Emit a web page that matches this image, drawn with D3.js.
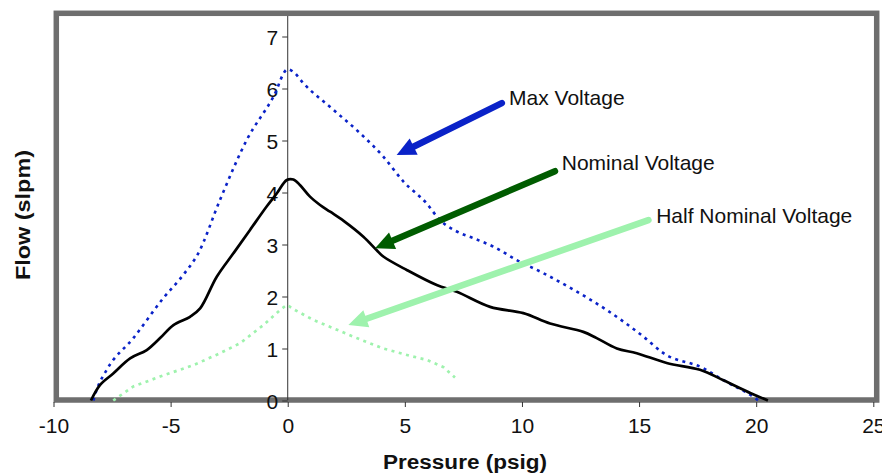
<!DOCTYPE html>
<html>
<head>
<meta charset="utf-8">
<script src="https://cdn.jsdelivr.net/npm/d3@7"></script>
<style>
  body { margin: 0; background: #fff; }
  text { font-family: "Liberation Sans", Arial, sans-serif; fill: #111; }
</style>
</head>
<body>
<div id="graph"></div>
<script>
// data (pressure psig, flow slpm)
const maxP = [-8.3, -8.16, -7.73, -6.59, -5.31, -4.4, -3.82, -2.89, -1.75, -0.61, 0, 0.24, 0.67, 1.95, 3.09, 4.08, 4.94, 5.93, 6.5, 7.22, 7.93, 8.78, 9.78, 10.91, 12.2, 13.62, 15.18, 16.04, 17.75, 18.6, 19.88, 20.1]
const maxF = [0, 0.2, 0.59, 1.2, 1.97, 2.45, 2.83, 3.86, 5.01, 5.84, 6.37, 6.32, 6.1, 5.59, 5.14, 4.69, 4.21, 3.79, 3.47, 3.25, 3.12, 2.96, 2.70, 2.45, 2.13, 1.74, 1.23, 0.91, 0.62, 0.39, 0.07, 0]

const nomP = [-8.4, -8.01, -7.45, -6.73, -6.02, -5.45, -4.88, -4.17, -3.74, -3.03, -2.32, -1.61, -0.9, -0.47, -0.04, 0.24, 0.53, 0.95, 1.38, 1.81, 2.4, 3.23, 3.8, 4.08, 5.08, 6.36, 7.22, 8.64, 10.06, 11.2, 12.62, 13.19, 14.05, 14.9, 16.18, 17.6, 18.6, 19.77, 20.5]
const nomF = [0, 0.3, 0.52, 0.81, 0.97, 1.2, 1.45, 1.61, 1.77, 2.38, 2.83, 3.28, 3.73, 3.98, 4.24, 4.25, 4.14, 3.92, 3.76, 3.63, 3.45, 3.15, 2.89, 2.77, 2.51, 2.22, 2.09, 1.80, 1.68, 1.48, 1.32, 1.2, 1.0, 0.91, 0.72, 0.59, 0.39, 0.14, 0]

const halfP = [-7.45, -6.59, -5.45, -4.03, -3.03, -2.04, -1.04, -0.33, -0.04, 0.31, 1.09, 1.95, 2.95, 4.08, 5.22, 5.94, 6.65, 7.14]
const halfF = [0, 0.27, 0.46, 0.68, 0.88, 1.1, 1.45, 1.74, 1.84, 1.74, 1.55, 1.39, 1.2, 1.0, 0.86, 0.78, 0.64, 0.44]

const xTicks = [-10, -5, 0, 5, 10, 15, 20, 25]
const yTicks = [0, 1, 2, 3, 4, 5, 6, 7]

// annotations: label, text anchor, arrow tail, arrow tip (data units)
const labels = ["Max Voltage", "Nominal Voltage", "Half Nominal Voltage"]
const labelPos = [[9.45, 5.68], [11.7, 4.43], [15.73, 3.42]]
const arrowTail = [[9.14, 5.72], [11.41, 4.41], [15.4, 3.47]]
const arrowTip = [[4.65, 4.72], [3.73, 2.93], [2.59, 1.45]]
const arrowColor = ["#0a22c8", "#005c00", "#9ef2ad"]

let width = 882, height = 475

let svg = d3.select("#graph").append("svg")
    .attr("width", width)
    .attr("height", height)

let x = d3.scaleLinear().domain([-10, 25]).range([53.5, 873.3])
let y = d3.scaleLinear().domain([0, 7]).range([400.5, 36.5])

// gray frame
svg.append("rect")
    .attr("x", 56.3).attr("y", 13.3)
    .attr("width", 876.7 - 56.3).attr("height", 400 - 13.3)
    .attr("fill", "none")
    .attr("stroke", "#6e6e6e")
    .attr("stroke-width", 5.5)

// y axis at pressure 0
let yAxis = svg.append("g")
    .attr("transform", "translate(" + x(0) + ",0)")
    .call(d3.axisLeft(y).tickValues(yTicks).tickSize(5.5).tickPadding(4).tickFormat(d => String(d)))
yAxis.select(".domain").remove()
yAxis.append("line")
    .attr("x1", 0).attr("x2", 0)
    .attr("y1", 16).attr("y2", 400)
    .attr("stroke", "#333")
yAxis.selectAll(".tick line").attr("stroke", "#333")
yAxis.selectAll(".tick text")
    .style("font-size", "21px")
    .attr("fill", "#111")
    .attr("dy", "0.36em")

// x axis along the bottom of the frame
let xAxis = svg.append("g")
    .attr("transform", "translate(0,402)")
    .call(d3.axisBottom(x).tickValues(xTicks).tickSize(5).tickPadding(11).tickFormat(d => String(d)))
xAxis.select(".domain").remove()
xAxis.selectAll(".tick line").attr("stroke", "#333")
xAxis.selectAll(".tick text")
    .style("font-size", "21px")
    .attr("fill", "#111")

// axis titles
svg.append("text")
    .attr("x", 465).attr("y", 469)
    .attr("text-anchor", "middle")
    .style("font-size", "20px").style("font-weight", "bold")
    .attr("textLength", 164).attr("lengthAdjust", "spacingAndGlyphs")
    .text("Pressure (psig)")

svg.append("text")
    .attr("transform", "translate(30,215) rotate(-90)")
    .attr("text-anchor", "middle")
    .style("font-size", "20px").style("font-weight", "bold")
    .attr("textLength", 130).attr("lengthAdjust", "spacingAndGlyphs")
    .text("Flow (slpm)")

let line = d3.line()
    .x(d => x(d[0]))
    .y(d => y(d[1]))

function pts(p, f) { return p.map((v, i) => [v, f[i]]) }

// Half nominal - light green dotted
svg.append("path")
    .datum(pts(halfP, halfF))
    .attr("d", line.curve(d3.curveLinear))
    .attr("fill", "none")
    .attr("stroke", "#9ef2ad")
    .attr("stroke-width", 2.7)
    .attr("stroke-dasharray", "3,4.5")

// Max voltage - blue dotted
svg.append("path")
    .datum(pts(maxP, maxF))
    .attr("d", line.curve(d3.curveMonotoneX))
    .attr("fill", "none")
    .attr("stroke", "#0a22c8")
    .attr("stroke-width", 2.6)
    .attr("stroke-dasharray", "3,4.5")

// Nominal - black solid
svg.append("path")
    .datum(pts(nomP, nomF))
    .attr("d", line.curve(d3.curveCatmullRom))
    .attr("fill", "none")
    .attr("stroke", "#000")
    .attr("stroke-width", 2.7)
    .attr("stroke-linejoin", "round")

// arrows
labels.forEach((lab, i) => {
    let tx = x(arrowTail[i][0]), ty = y(arrowTail[i][1])
    let hx = x(arrowTip[i][0]), hy = y(arrowTip[i][1])
    let ang = Math.atan2(hy - ty, hx - tx)
    let headLen = 19, headW = 9
    let bx = hx - headLen * Math.cos(ang), by = hy - headLen * Math.sin(ang)
    svg.append("line")
        .attr("x1", tx).attr("y1", ty)
        .attr("x2", bx + 2 * Math.cos(ang)).attr("y2", by + 2 * Math.sin(ang))
        .attr("stroke", arrowColor[i])
        .attr("stroke-width", 6.5)
        .attr("stroke-linecap", "round")
    let nx = -Math.sin(ang), ny = Math.cos(ang)
    svg.append("path")
        .attr("d", "M" + hx + "," + hy +
            "L" + (bx + nx * headW) + "," + (by + ny * headW) +
            "L" + (bx - nx * headW) + "," + (by - ny * headW) + "Z")
        .attr("fill", arrowColor[i])
    svg.append("text")
        .attr("x", x(labelPos[i][0]))
        .attr("y", y(labelPos[i][1]))
        .style("font-size", "21px")
        .text(lab)
})
</script>
</body>
</html>
